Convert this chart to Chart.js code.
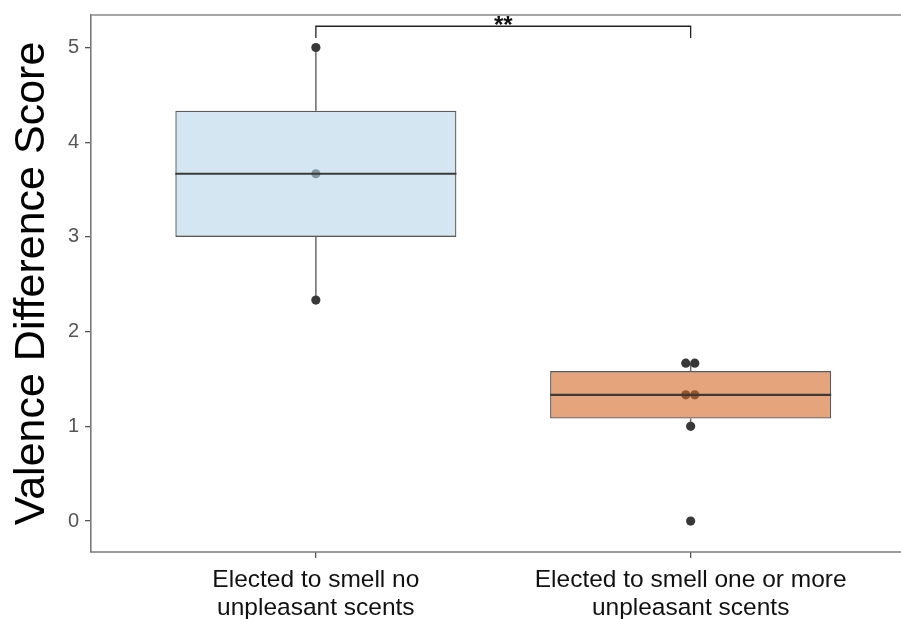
<!DOCTYPE html>
<html>
<head>
<meta charset="utf-8">
<script src="https://cdn.jsdelivr.net/npm/chart.js@4.4.1/dist/chart.umd.min.js"></script>
<style>
  html, body { margin: 0; padding: 0; background: #fff; overflow: hidden; }
  #wrap { width: 901px; height: 619px; }
</style>
</head>
<body>
<div id="wrap"><canvas id="chart" width="901" height="619"></canvas></div>
<script>
// Group labels and their positions on the x axis
const categories = [
  ["Elected to smell no", "unpleasant scents"],
  ["Elected to smell one or more", "unpleasant scents"]
];
const groupPositions = [1, 2];

// Box summary per group
const q1Values = [3.0, 1.083];
const medianValues = [3.667, 1.333];
const q3Values = [4.333, 1.583];
const whiskerLow = [2.333, 1.0];
const whiskerHigh = [5.0, 1.667];

// Individual observations (value, small horizontal jitter)
const group1Values = [5.0, 3.667, 2.333];
const group1Jitter = [0, 0, 0];
const group2Values = [1.667, 1.667, 1.333, 1.333, 1.0, 0.0];
const group2Jitter = [-0.013, 0.011, -0.013, 0.011, 0.0, 0.0];

// Y axis ticks
const yTickValues = [0, 1, 2, 3, 4, 5];

// Significance bracket between the two groups
const sigText = "**";
const sigBracketY = 5.224;
const sigBracketTipY = 5.10;
const sigTextY = 5.15;

const boxFills = ["rgba(183,213,232,0.6)", "rgba(213,103,37,0.6)"];
const frameColor = '#7a7a7a';

const pointData = [
  ...group1Values.map((v, i) => ({ x: groupPositions[0] + group1Jitter[i], y: v })),
  ...group2Values.map((v, i) => ({ x: groupPositions[1] + group2Jitter[i], y: v }))
];

// Keep the plot frame fixed: no extra room reserved for edge labels
function noEdgePadding(scale) {
  scale.paddingTop = 0;
  scale.paddingBottom = 0;
  scale.paddingLeft = 0;
  scale.paddingRight = 0;
}

const boxPlugin = {
  id: 'boxParts',
  beforeDatasetsDraw(chart) {
    const { ctx, scales: { x, y } } = chart;
    ctx.save();
    ctx.strokeStyle = '#6a6a6a';
    ctx.lineWidth = 1.5;
    groupPositions.forEach((g, i) => {
      const px = x.getPixelForValue(g);
      ctx.beginPath();
      ctx.moveTo(px, y.getPixelForValue(q3Values[i]));
      ctx.lineTo(px, y.getPixelForValue(whiskerHigh[i]));
      ctx.moveTo(px, y.getPixelForValue(q1Values[i]));
      ctx.lineTo(px, y.getPixelForValue(whiskerLow[i]));
      ctx.stroke();
    });
    ctx.restore();
  },
  afterDatasetsDraw(chart) {
    const { ctx, scales: { x, y }, chartArea } = chart;
    ctx.save();
    // medians
    const bar = chart.getDatasetMeta(0).data;
    ctx.strokeStyle = '#3a3a3a';
    ctx.lineWidth = 2.2;
    groupPositions.forEach((g, i) => {
      const el = bar[i];
      const half = el.width / 2;
      const py = y.getPixelForValue(medianValues[i]);
      ctx.beginPath();
      ctx.moveTo(el.x - half, py);
      ctx.lineTo(el.x + half, py);
      ctx.stroke();
    });
    // top frame line and x axis line, both running to the canvas edge
    ctx.lineWidth = 1.6;
    ctx.strokeStyle = '#8a8a8a';
    ctx.beginPath();
    ctx.moveTo(chartArea.left, chartArea.top);
    ctx.lineTo(chart.width, chartArea.top);
    ctx.stroke();
    ctx.strokeStyle = frameColor;
    ctx.beginPath();
    ctx.moveTo(chartArea.left - 0.8, chartArea.bottom);
    ctx.lineTo(chart.width, chartArea.bottom);
    ctx.stroke();
    // significance bracket
    const xa = x.getPixelForValue(groupPositions[0]);
    const xb = x.getPixelForValue(groupPositions[1]);
    const yb = y.getPixelForValue(sigBracketY);
    const yt = y.getPixelForValue(sigBracketTipY);
    ctx.strokeStyle = '#222';
    ctx.lineWidth = 1.3;
    ctx.beginPath();
    ctx.moveTo(xa, yt);
    ctx.lineTo(xa, yb);
    ctx.lineTo(xb, yb);
    ctx.lineTo(xb, yt);
    ctx.stroke();
    ctx.fillStyle = '#111';
    ctx.font = 'bold 24px "Liberation Sans", Arial, sans-serif';
    ctx.textAlign = 'center';
    ctx.textBaseline = 'alphabetic';
    ctx.fillText(sigText, (xa + xb) / 2, y.getPixelForValue(sigTextY));
    ctx.restore();
  }
};

new Chart(document.getElementById('chart'), {
  type: 'bar',
  data: {
    datasets: [
      {
        type: 'bar',
        order: 0,
        data: groupPositions.map((g, i) => ({ x: g, y: [q1Values[i], q3Values[i]] })),
        backgroundColor: boxFills,
        borderColor: '#5a5a5a',
        borderWidth: 1.3,
        borderSkipped: false,
        barPercentage: 0.75,
        categoryPercentage: 1.0
      },
      {
        type: 'scatter',
        order: 1,
        data: pointData,
        pointRadius: 4.6,
        pointBackgroundColor: '#383838',
        pointBorderColor: '#383838',
        pointBorderWidth: 0,
        showLine: false
      }
    ]
  },
  options: {
    responsive: false,
    animation: false,
    events: [],
    layout: { padding: { top: 15, right: 0, bottom: 0, left: 0 } },
    plugins: { legend: { display: false }, tooltip: { enabled: false } },
    scales: {
      x: {
        type: 'linear',
        min: 0.4,
        max: 2.549,
        offset: false,
        grid: { display: true, drawOnChartArea: false, drawTicks: true, tickLength: 6, tickColor: '#555', lineWidth: 1.3, offset: false },
        border: { display: false },
        afterBuildTicks(scale) { scale.ticks = groupPositions.map(v => ({ value: v })); },
        afterFit(scale) { scale.height = 67; noEdgePadding(scale); },
        ticks: {
          autoSkip: false,
          maxRotation: 0,
          padding: 8,
          color: '#111',
          font: { family: '"Liberation Sans", Arial, sans-serif', size: 24.5, lineHeight: 1.15 },
          callback(value) {
            const i = groupPositions.indexOf(value);
            return i >= 0 ? categories[i] : '';
          }
        }
      },
      y: {
        type: 'linear',
        min: -0.327,
        max: 5.343,
        grid: { display: true, drawOnChartArea: false, drawTicks: true, tickLength: 6, tickColor: '#555', lineWidth: 1.3 },
        border: { display: true, color: frameColor, width: 1.6 },
        afterBuildTicks(scale) { scale.ticks = yTickValues.map(v => ({ value: v })); },
        afterFit(scale) { scale.width = 91; noEdgePadding(scale); },
        ticks: {
          padding: 6,
          color: '#555',
          font: { family: '"Liberation Sans", Arial, sans-serif', size: 20 }
        },
        title: {
          display: true,
          text: 'Valence Difference Score',
          color: '#000',
          padding: { top: 6, bottom: 0 },
          font: { family: '"Liberation Sans", Arial, sans-serif', size: 43, lineHeight: 1.2 }
        }
      }
    }
  },
  plugins: [boxPlugin]
});
</script>
</body>
</html>
